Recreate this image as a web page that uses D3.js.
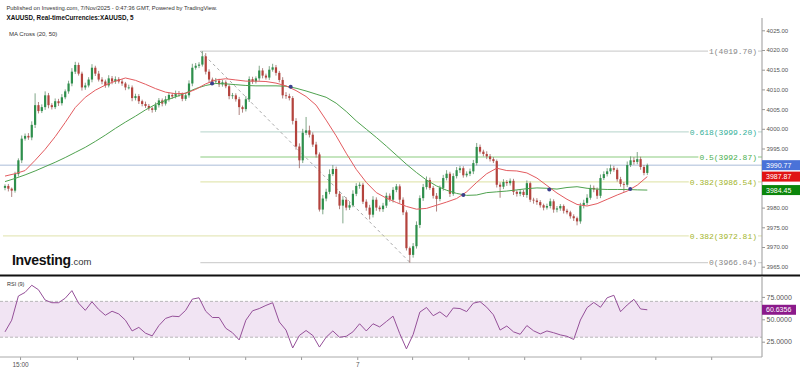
<!DOCTYPE html>
<html>
<head>
<meta charset="utf-8">
<script src="https://cdn.jsdelivr.net/npm/d3@7"></script>
<style>
  body { margin: 0; background: #fff; }
  svg { display: block; font-family: "Liberation Sans", Arial, sans-serif; }
</style>
</head>
<body>
<svg id="chart" width="800" height="372"></svg>
<script>
// ---- data ----
const firstOpen = 3985.0;
const closes = [
  3985.5, 3984.8, 3984.3, 3988.5, 3992.0, 3997.5, 3998.2, 3997.8, 4001.0, 4006.0,
  4004.5, 4005.5, 4008.5, 4006.0, 4005.5, 4007.0, 4006.5, 4008.0, 4009.5, 4011.5,
  4014.5, 4016.2, 4014.0, 4010.5, 4011.0, 4012.5, 4015.5, 4014.0, 4012.5, 4012.0,
  4011.0, 4012.8, 4012.0, 4012.6, 4012.0, 4011.5, 4010.5, 4010.5, 4007.8, 4008.3,
  4007.0, 4006.3, 4005.8, 4005.2, 4004.8, 4006.0, 4007.2, 4006.4, 4007.5, 4008.6,
  4008.2, 4009.0, 4008.8, 4007.6, 4008.5, 4011.5, 4015.5, 4016.0, 4016.3, 4018.4,
  4014.5, 4012.5, 4012.0, 4012.2, 4011.3, 4011.8, 4010.8, 4008.3, 4008.5, 4007.5,
  4005.5, 4005.0, 4007.5, 4012.6, 4012.0, 4012.8, 4014.8, 4013.5, 4013.0, 4015.0,
  4015.6, 4014.2, 4012.4, 4008.5, 4008.3, 4007.8, 4002.0, 3995.5, 3992.0, 3999.0,
  3999.6, 3998.5, 3996.0, 3993.5, 3979.5, 3982.3, 3984.0, 3988.5, 3989.8, 3983.5,
  3980.5, 3982.0, 3980.0, 3980.6, 3983.5, 3985.5, 3985.8, 3981.5, 3980.0, 3978.2,
  3982.0, 3980.0, 3979.6, 3980.5, 3983.0, 3982.0, 3984.5, 3985.4, 3982.0, 3978.8,
  3969.7, 3968.0, 3970.2, 3975.6, 3982.4, 3985.2, 3987.0, 3985.0, 3983.0, 3982.2,
  3985.0, 3987.5, 3988.6, 3983.5, 3988.0, 3989.5, 3990.0, 3988.2, 3988.6, 3989.2,
  3991.3, 3995.4, 3994.2, 3993.6, 3993.0, 3992.3, 3991.8, 3985.8, 3985.3, 3986.5,
  3986.2, 3986.8, 3984.0, 3983.5, 3984.0, 3983.2, 3986.2, 3982.0, 3981.8, 3981.4,
  3980.6, 3980.0, 3980.4, 3981.6, 3979.5, 3979.8, 3980.4, 3979.2, 3978.8, 3977.8,
  3977.3, 3976.5, 3980.5, 3981.2, 3982.5, 3985.0, 3984.6, 3983.0, 3987.5, 3988.5,
  3989.2, 3990.0, 3989.6, 3987.2, 3986.0, 3985.8, 3990.8, 3992.0, 3991.6, 3992.3,
  3990.3, 3988.8, 3990.77
];
// wick length above / below the body, in price units
const wickHi = [
  0.4, 0.5, 0.3, 0.6, 0.5, 0.8, 0.6, 0.7, 0.9, 3.0,
  0.8, 0.7, 1.0, 0.6, 0.5, 0.7, 0.6, 0.8, 0.5, 0.7,
  0.9, 0.8, 0.6, 0.5, 0.7, 0.6, 0.9, 0.5, 0.7, 0.6,
  0.5, 0.8, 0.6, 0.7, 0.5, 0.6, 0.4, 0.7, 0.5, 0.6,
  0.5, 0.4, 0.6, 0.5, 0.4, 0.7, 0.6, 0.5, 0.8, 0.6,
  0.5, 0.7, 0.6, 0.4, 0.6, 0.8, 1.0, 0.7, 0.6, 1.3,
  0.8, 0.6, 0.5, 0.7, 0.5, 0.6, 0.5, 0.4, 0.6, 0.5,
  0.6, 0.4, 0.8, 0.7, 0.6, 0.5, 1.2, 0.6, 0.5, 0.9,
  0.9, 0.6, 0.5, 0.7, 0.8, 0.6, 0.5, 0.7, 0.8, 1.0,
  3.4, 1.2, 0.6, 0.7, 0.5, 0.9, 0.8, 1.2, 1.0, 0.6,
  0.7, 0.9, 0.6, 0.8, 0.9, 0.7, 0.6, 0.5, 0.6, 0.7,
  0.9, 0.6, 0.5, 0.7, 0.8, 0.6, 0.7, 0.6, 0.5, 0.6,
  0.5, 0.4, 0.8, 0.9, 0.7, 0.8, 0.9, 0.6, 0.5, 0.7,
  0.6, 0.8, 0.9, 0.5, 0.7, 0.8, 0.6, 0.5, 0.6, 0.7,
  0.8, 1.0, 0.6, 0.5, 0.7, 0.6, 0.5, 0.4, 0.6, 0.7,
  0.5, 0.6, 0.5, 0.4, 0.6, 0.5, 0.7, 0.4, 0.5, 0.6,
  0.5, 0.4, 0.6, 0.7, 0.5, 0.6, 0.5, 0.4, 0.5, 0.4,
  0.5, 0.4, 0.7, 0.8, 0.9, 0.8, 0.6, 0.5, 0.9, 0.7,
  0.8, 0.9, 0.6, 0.5, 0.6, 0.5, 0.9, 1.0, 0.8, 1.8,
  0.6, 0.5, 0.4
];
const wickLo = [
  0.6, 0.7, 1.6, 0.5, 0.6, 0.7, 0.5, 0.6, 0.7, 0.8,
  0.6, 0.5, 0.7, 0.8, 0.6, 0.5, 0.7, 0.6, 0.5, 0.6,
  0.7, 0.6, 0.5, 0.8, 0.6, 0.5, 0.7, 0.6, 0.5, 0.7,
  0.6, 0.5, 0.7, 0.6, 0.5, 0.6, 0.7, 0.5, 0.8, 0.6,
  0.7, 0.6, 0.5, 0.6, 0.7, 0.5, 0.6, 0.7, 0.5, 0.6,
  0.6, 0.5, 0.7, 0.6, 0.5, 0.6, 0.7, 0.5, 0.6, 0.5,
  0.7, 0.8, 0.6, 0.5, 0.7, 0.6, 0.5, 0.8, 0.7, 0.6,
  2.0, 0.9, 0.6, 0.7, 0.6, 0.5, 0.6, 0.7, 0.5, 0.6,
  0.5, 0.7, 0.6, 0.8, 0.7, 0.6, 0.9, 0.8, 2.0, 0.7,
  0.6, 0.7, 0.6, 0.8, 0.5, 1.2, 0.7, 0.6, 0.5, 0.8,
  0.9, 4.5, 0.7, 0.6, 0.5, 0.6, 0.7, 0.6, 0.8, 1.2,
  0.7, 0.8, 0.6, 0.7, 0.6, 0.5, 0.7, 0.6, 0.8, 0.7,
  0.6, 2.0, 0.7, 0.6, 0.8, 0.7, 0.6, 0.5, 0.7, 3.2,
  0.6, 0.7, 0.6, 0.8, 0.5, 0.6, 0.7, 0.6, 0.5, 0.6,
  0.7, 0.6, 0.5, 0.6, 0.7, 0.6, 0.5, 0.7, 2.8, 0.6,
  0.7, 0.6, 0.8, 0.7, 0.6, 0.5, 0.7, 0.6, 0.8, 0.7,
  0.6, 0.7, 0.5, 0.6, 0.8, 0.7, 0.6, 0.7, 0.5, 0.6,
  0.7, 1.0, 0.6, 0.7, 0.6, 0.5, 0.7, 0.8, 0.6, 0.5,
  0.6, 0.7, 0.5, 0.6, 0.7, 1.8, 0.6, 0.5, 0.7, 0.6,
  0.7, 0.6, 0.5
];
// moving averages, one value every 3 bars
const maStep = 3;
const ma20 = [
  3988.0, 3988.6, 3989.4, 3992.0, 3994.8, 3998.0, 4001.6, 4005.4, 4008.0, 4009.8,
  4011.1, 4012.1, 4012.9, 4012.3, 4011.3, 4010.2, 4009.3, 4008.9, 4009.0, 4010.0,
  4011.4, 4012.4, 4012.7, 4012.4, 4012.1, 4012.1, 4012.0, 4011.6, 4010.9, 4009.7,
  4008.2, 4006.0, 4002.2, 3998.2, 3993.8, 3989.7, 3986.4, 3983.8, 3982.4, 3981.3,
  3980.3, 3979.6, 3979.8, 3980.6, 3981.4, 3982.3, 3984.0, 3986.4, 3988.6, 3990.0,
  3989.4, 3989.3, 3988.8, 3987.5, 3985.6, 3983.7, 3982.1, 3980.8, 3980.4, 3981.0,
  3982.1, 3983.2, 3984.2, 3985.7, 3987.87
];
const ma50 = [
  3986.6, 3987.4, 3988.3, 3989.3, 3990.4, 3991.5, 3992.7, 3994.0, 3995.3, 3996.8,
  3998.4, 4000.1, 4001.7, 4003.2, 4004.8, 4006.2, 4007.2, 4008.1, 4009.1, 4010.2,
  4011.0, 4011.5, 4011.4, 4011.2, 4011.0, 4010.9, 4010.9, 4010.9, 4010.8, 4010.3,
  4009.6, 4008.8, 4008.0, 4006.5, 4004.4, 4002.0, 3999.9, 3997.8, 3995.6, 3993.3,
  3991.0, 3988.9, 3987.0, 3985.5, 3984.4, 3983.6, 3983.1, 3983.2, 3983.8, 3984.0,
  3984.2, 3984.5, 3984.8, 3985.0, 3984.9, 3984.7, 3985.1, 3985.3, 3984.9, 3984.7,
  3984.6, 3984.6, 3984.6, 3984.5, 3984.45
];
const crossBars = [61.9, 85.4, 137, 162.7, 186.9];
const crossPrices = [4011.5, 4010.7, 3983.2, 3984.6, 3984.7];
// RSI(9), one value every 2 bars
const rsiStep = 2;
const rsi9 = [
  36, 49, 76, 80, 88, 83, 71.5, 68.5, 68.5, 73.5,
  82, 68, 60, 69.5, 61, 54.5, 59, 56, 49, 37,
  41, 34.5, 31.5, 43, 51, 53.5, 53, 60, 72.5, 74,
  59, 52, 52, 40, 35, 27, 49, 59.5, 62, 65.5,
  68.5, 47, 38, 18, 32, 37.5, 32, 19, 30, 37,
  30, 31, 36, 45, 37, 45, 41.5, 47.5, 53.5, 34,
  17, 33, 58, 63.2, 54, 58.3, 52.5, 62.6, 62, 58.6,
  68, 69.7, 63.5, 55, 38, 42.5, 36, 33.3, 43, 37.2,
  33.7, 37, 35, 32.6, 31, 27.5, 49.2, 63, 68.8, 63.4,
  74, 76.8, 58.5, 66, 72.3, 61.5, 60.64
];
const fibRatios = ["1", "0.618", "0.5", "0.382", "0.382", "0"];
const fibPrices = [4019.70, 3999.20, 3992.87, 3986.54, 3972.81, 3966.04];
const fibFromBar = [58.4, 58.4, 58.4, 58.4, -0.6, 58.4];
const trendBars = [58.4, 121.1];
const trendPrices = [4019.70, 3966.04];
const priceTicks = [3965, 3970, 3975, 3980, 3985, 3990, 3995, 4000, 4005, 4010, 4015, 4020, 4025];
const rsiTicks = [25, 50, 75];
const timeTicks = [4.5, 21.5, 38.3, 55, 71.8, 88.5, 105.3, 121.7, 138.5, 155.2, 172, 194.4, 211.1];
const timeLabels = ["15:00", "", "", "", "", "", "7", "", "", "", "", "", ""];
const lastClose = 3990.77, lastMa20 = 3987.87, lastMa50 = 3984.45, lastRsi = 60.6356;

// ---- layout ----
const svg = d3.select("#chart");
const axisX = 762;
const x = d3.scaleLinear().domain([0, closes.length - 1]).range([5, 647.3]);
const y = d3.scaleLinear().domain([3965, 4025]).range([266.7, 30.3]);
const yr = d3.scaleLinear().domain([25, 75]).range([341.7, 296.9]);

const upCol = "#2e8f4c", dnCol = "#b4433d";

// header texts
svg.append("text").attr("x", 6.5).attr("y", 9.5).attr("font-size", 5.8).attr("fill", "#333")
  .text("Published on Investing.com, 7/Nov/2025 - 0:47:36 GMT, Powered by TradingView.");
svg.append("text").attr("x", 6.5).attr("y", 19.5).attr("font-size", 6.3).attr("font-weight", "bold").attr("fill", "#111")
  .text("XAUUSD, Real-timeCurrencies:XAUUSD, 5");
svg.append("text").attr("x", 9).attr("y", 35.5).attr("font-size", 6).attr("fill", "#333")
  .text("MA Cross (20, 50)");

// fibonacci levels
const fib = svg.append("g");
const fibLine = ["#d2d2d2", "#c3dcd5", "#c5e5bf", "#e3e7b4", "#e6e8bc", "#d2d2d2"];
const fibText = ["#888", "#35b09a", "#4caf50", "#a3b52c", "#a3b52c", "#888"];
fibPrices.forEach((p, k) => {
  fib.append("line")
    .attr("x1", x(fibFromBar[k])).attr("x2", axisX)
    .attr("y1", y(p)).attr("y2", y(p))
    .attr("stroke", fibLine[k]).attr("stroke-width", k === 2 ? 2 : 1.2);
});
// current price line
svg.append("line").attr("x1", 0).attr("x2", axisX)
  .attr("y1", y(lastClose)).attr("y2", y(lastClose))
  .attr("stroke", "#aabdd8").attr("stroke-width", 1);
// dashed retracement line
svg.append("line")
  .attr("x1", x(trendBars[0])).attr("y1", y(trendPrices[0]))
  .attr("x2", x(trendBars[1])).attr("y2", y(trendPrices[1]))
  .attr("stroke", "#aaa").attr("stroke-width", 1).attr("stroke-dasharray", "3,3");

fibPrices.forEach((p, k) => {
  const t = fib.append("text")
    .attr("x", 757).attr("y", y(p)).attr("dy", "0.35em")
    .attr("text-anchor", "end")
    .attr("font-family", "'Liberation Mono', 'DejaVu Sans Mono', monospace")
    .attr("font-size", 8).attr("fill", fibText[k])
    .text(`${fibRatios[k]}(${p.toFixed(2)})`);
  const b = t.node().getBBox();
  fib.insert("rect", () => t.node())
    .attr("x", b.x - 1).attr("y", b.y).attr("width", b.width + 2).attr("height", b.height)
    .attr("fill", "#fff");
});

// candles
const bars = closes.map((c, i) => {
  const o = i === 0 ? firstOpen : closes[i - 1];
  return { i, o, c, h: Math.max(o, c) + wickHi[i], l: Math.min(o, c) - wickLo[i] };
});
const bw = 2.2;
const cg = svg.append("g");
cg.selectAll("line").data(bars).join("line")
  .attr("x1", d => x(d.i)).attr("x2", d => x(d.i))
  .attr("y1", d => y(d.h)).attr("y2", d => y(d.l))
  .attr("stroke", d => d.c >= d.o ? "#5f8f6a" : "#9a6562").attr("stroke-width", 0.8);
cg.selectAll("rect").data(bars).join("rect")
  .attr("x", d => x(d.i) - bw / 2).attr("width", bw)
  .attr("y", d => y(Math.max(d.o, d.c)))
  .attr("height", d => Math.max(0.8, Math.abs(y(d.o) - y(d.c))))
  .attr("fill", d => d.c >= d.o ? upCol : dnCol);

// moving averages
const maLine = d3.line().x((d, k) => x(k * maStep)).y(d => y(d));
svg.append("path").attr("d", maLine(ma50)).attr("fill", "none").attr("stroke", "#4fa24f").attr("stroke-width", 1);
svg.append("path").attr("d", maLine(ma20)).attr("fill", "none").attr("stroke", "#e35b5f").attr("stroke-width", 1);
svg.append("g").selectAll("circle").data(crossBars).join("circle")
  .attr("cx", d => x(d)).attr("cy", (d, k) => y(crossPrices[k]))
  .attr("r", 2).attr("fill", "#3b3f8c");

// Investing.com logo
const logo = svg.append("text").attr("x", 12).attr("y", 265).attr("fill", "#111");
logo.append("tspan").attr("font-size", 14).attr("font-weight", "bold").attr("letter-spacing", -0.3).text("Investing");
logo.append("tspan").attr("font-size", 9.5).attr("fill", "#333").text(".com");

// last value tags (top to bottom), pushed apart so they do not overlap
const tags = [[lastClose, "#4a72d8"], [lastMa20, "#e01414"], [lastMa50, "#0b860b"]];
const tagY = [];
tags.forEach(([v], k) => {
  let cy = y(v);
  if (k > 0) cy = Math.max(cy, tagY[k - 1] + 11);
  tagY.push(cy);
});

// price axis (labels hidden behind the value tags are dropped)
svg.append("line").attr("x1", axisX).attr("x2", axisX).attr("y1", 18).attr("y2", 276)
  .attr("stroke", "#999");
const pAxis = svg.append("g").attr("transform", `translate(${axisX},0)`)
  .call(d3.axisRight(y).tickValues(priceTicks).tickSize(3).tickPadding(1.5).tickFormat(d3.format(".2f")));
pAxis.select(".domain").remove();
pAxis.selectAll("line").attr("stroke", "#999");
pAxis.selectAll("text").attr("font-size", 6).attr("fill", "#555").attr("font-family", "'Liberation Sans', Arial, sans-serif");
pAxis.selectAll(".tick").filter(d => tagY.some(ty => Math.abs(y(d) - ty) < 8.5)).select("text").remove();

tags.forEach(([v, col], k) => {
  const cy = tagY[k];
  svg.append("rect").attr("x", axisX).attr("y", cy - 5).attr("width", 38).attr("height", 10).attr("fill", col);
  svg.append("text").attr("x", axisX + 4).attr("y", cy).attr("dy", "0.35em")
    .attr("font-size", 7).attr("fill", "#fff").text(v.toFixed(2));
});

// panel separator
svg.append("line").attr("x1", 0).attr("x2", 800).attr("y1", 275.5).attr("y2", 275.5)
  .attr("stroke", "#111").attr("stroke-width", 2);

// RSI panel
svg.append("rect").attr("x", 0).attr("width", axisX)
  .attr("y", yr(70)).attr("height", yr(30) - yr(70)).attr("fill", "#f1e4f3");
[70, 30].forEach(v => {
  svg.append("line").attr("x1", 0).attr("x2", axisX).attr("y1", yr(v)).attr("y2", yr(v))
    .attr("stroke", "#aaa").attr("stroke-width", 0.8).attr("stroke-dasharray", "3,2");
});
svg.append("path")
  .attr("d", d3.line().x((d, k) => x(k * rsiStep)).y(d => yr(d))(rsi9))
  .attr("fill", "none").attr("stroke", "#955099").attr("stroke-width", 1);
svg.append("text").attr("x", 7).attr("y", 285.5).attr("font-size", 5.5).attr("fill", "#333").text("RSI (9)");

svg.append("line").attr("x1", axisX).attr("x2", axisX).attr("y1", 276).attr("y2", 357)
  .attr("stroke", "#999");
const rAxis = svg.append("g").attr("transform", `translate(${axisX},0)`)
  .call(d3.axisRight(yr).tickValues(rsiTicks).tickSize(3).tickPadding(1.5).tickFormat(d3.format(".4f")));
rAxis.select(".domain").remove();
rAxis.selectAll("line").attr("stroke", "#999");
rAxis.selectAll("text").attr("font-size", 7).attr("fill", "#555").attr("font-family", "'Liberation Sans', Arial, sans-serif");
svg.append("rect").attr("x", axisX).attr("y", yr(lastRsi) - 5).attr("width", 34).attr("height", 10).attr("fill", "#8b1a8b");
svg.append("text").attr("x", axisX + 4).attr("y", yr(lastRsi)).attr("dy", "0.35em")
  .attr("font-size", 7).attr("fill", "#fff").text(lastRsi.toFixed(4));

// time axis
const tAxis = svg.append("g").attr("transform", "translate(0,357)")
  .call(d3.axisBottom(x).tickValues(timeTicks).tickSize(3).tickPadding(2).tickFormat((d, k) => timeLabels[k]));
tAxis.select(".domain").remove();
tAxis.selectAll("line").attr("stroke", "#999");
tAxis.selectAll("text").attr("font-size", 6.5).attr("fill", "#555").attr("font-family", "'Liberation Sans', Arial, sans-serif");
svg.append("line").attr("x1", 0).attr("x2", axisX).attr("y1", 357).attr("y2", 357).attr("stroke", "#aaa");
</script>
</body>
</html>
